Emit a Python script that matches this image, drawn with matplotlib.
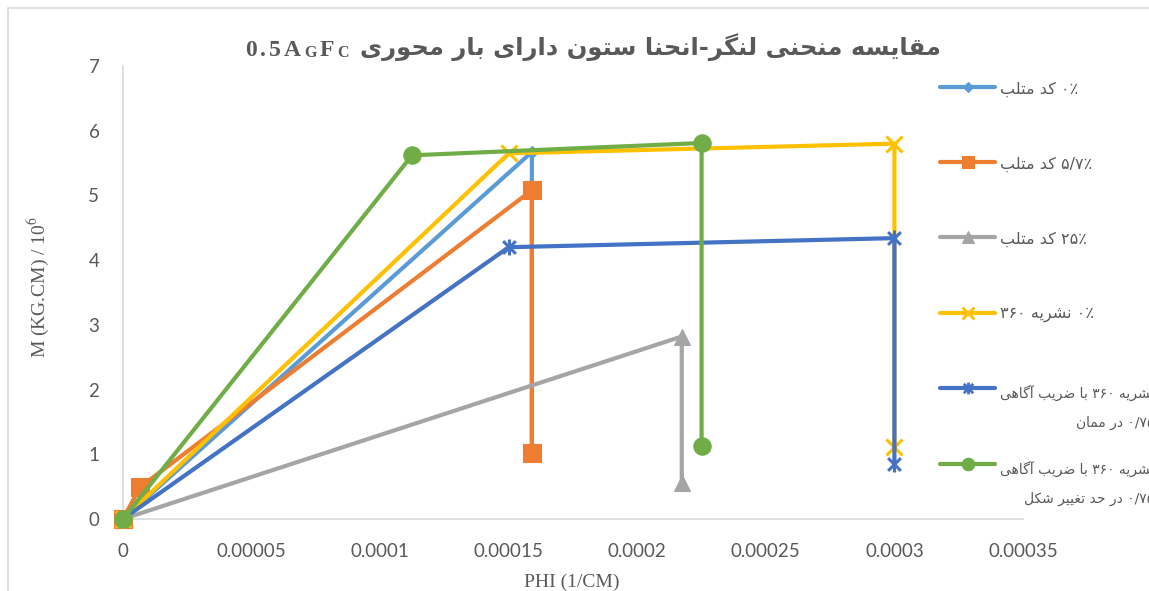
import re
import matplotlib.pyplot as plt
from matplotlib.lines import Line2D
from matplotlib.patches import Rectangle
from matplotlib.path import Path

W, H = 1149, 591

# --- data -------------------------------------------------------------
title_fa = 'مقایسه منحنی لنگر-انحنا ستون دارای بار محوری'
title_parts = ['0.5A', 'G', 'F', 'C']
xlabel = 'PHI (1/CM)'
ylabel = 'M (KG.CM) / 10$^{6}$'

series_names = [
    '۰٪ کد متلب',
    '۵/۷٪ کد متلب',
    '۲۵٪ کد متلب',
    '۰٪ نشریه ۳۶۰',
    'نشریه ۳۶۰ با ضریب آگاهی\n۰/۷۵ در ممان',
    'نشریه ۳۶۰ با ضریب آگاهی\n۰/۷۵ در حد تغییر شکل',
]

phi_matlab_0 = [0, 0.000159, 0.000159]
m_matlab_0 = [0, 5.67, 1.10]
phi_matlab_57 = [0, 0.0000066, 0.000159, 0.000159]
m_matlab_57 = [0, 0.49, 5.08, 1.02]
phi_matlab_25 = [0, 0.0002173, 0.0002173]
m_matlab_25 = [0, 2.82, 0.556]
phi_code_0 = [0, 0.00015, 0.0003, 0.0003]
m_code_0 = [0, 5.65, 5.80, 1.12]
phi_code_moment = [0, 0.00015, 0.0003, 0.0003]
m_code_moment = [0, 4.20, 4.34, 0.85]
phi_code_deform = [0, 0.0001124, 0.000225, 0.000225]
m_code_deform = [0, 5.62, 5.81, 1.13]

xticks = [0, 0.00005, 0.0001, 0.00015, 0.0002, 0.00025, 0.0003, 0.00035]
xtick_labels = ['0', '0.00005', '0.0001', '0.00015', '0.0002', '0.00025', '0.0003', '0.00035']
yticks = [0, 1, 2, 3, 4, 5, 6, 7]

# --- persian shaping (matplotlib has no complex text layout) -----------
FORMS = {
    '\u0627': (0xFE8D, 0xFE8E),
    '\u0622': (0xFE81, 0xFE82),
    '\u0628': (0xFE8F, 0xFE90, 0xFE91, 0xFE92),
    '\u062A': (0xFE95, 0xFE96, 0xFE97, 0xFE98),
    '\u062D': (0xFEA1, 0xFEA2, 0xFEA3, 0xFEA4),
    '\u062F': (0xFEA9, 0xFEAA),
    '\u0631': (0xFEAD, 0xFEAE),
    '\u0633': (0xFEB1, 0xFEB2, 0xFEB3, 0xFEB4),
    '\u0634': (0xFEB5, 0xFEB6, 0xFEB7, 0xFEB8),
    '\u0636': (0xFEBD, 0xFEBE, 0xFEBF, 0xFEC0),
    '\u063A': (0xFECD, 0xFECE, 0xFECF, 0xFED0),
    '\u0642': (0xFED5, 0xFED6, 0xFED7, 0xFED8),
    '\u0644': (0xFEDD, 0xFEDE, 0xFEDF, 0xFEE0),
    '\u0645': (0xFEE1, 0xFEE2, 0xFEE3, 0xFEE4),
    '\u0646': (0xFEE5, 0xFEE6, 0xFEE7, 0xFEE8),
    '\u0647': (0xFEE9, 0xFEEA, 0xFEEB, 0xFEEC),
    '\u0648': (0xFEED, 0xFEEE),
    '\u06A9': (0xFB8E, 0xFB8F, 0xFB90, 0xFB91),
    '\u06AF': (0xFB92, 0xFB93, 0xFB94, 0xFB95),
    '\u06CC': (0xFBFC, 0xFBFD, 0xFBFE, 0xFBFF),
}
NUM = '0-9\u06F0-\u06F9/\u066A'


def normalize(s):
    s = s.replace('\u0643', '\u06A9').replace('\u064A', '\u06CC').replace('\u0649', '\u06CC')
    s = s.replace('%', '\u066A')
    for i in range(10):
        s = s.replace(chr(0x0660 + i), chr(0x06F0 + i))
    return s


def shape(s):
    out = []
    for i, ch in enumerate(s):
        f = FORMS.get(ch)
        if f is None:
            out.append(ch)
            continue
        prev = s[i - 1] if i > 0 else ''
        nxt = s[i + 1] if i + 1 < len(s) else ''
        jp = prev in FORMS and len(FORMS[prev]) == 4
        jn = nxt in FORMS and len(f) == 4
        if jp and jn:
            g = f[3]
        elif jp:
            g = f[1]
        elif jn:
            g = f[2]
        else:
            g = f[0]
        out.append(chr(g))
    return ''.join(out)


def rtl(text):
    lines = []
    for line in normalize(text).split('\n'):
        runs = re.findall(f'[{NUM}]+|[^{NUM}]+', shape(line))
        lines.append(''.join(r if re.match(f'[{NUM}]', r) else r[::-1] for r in reversed(runs)))
    return '\n'.join(lines)


def fx(px):
    return px / W


def fy(py):
    return 1 - py / H


# --- styles -----------------------------------------------------------
gray_txt = '#595959'
grid_col = '#D9D9D9'
star = Path([(-0.8, -0.8), (0.8, 0.8), (-0.8, 0.8), (0.8, -0.8), (0, -1), (0, 1)],
            [Path.MOVETO, Path.LINETO] * 3)

series = [
    (phi_matlab_0, m_matlab_0, '#5B9BD5', 'D', 6, 5),
    (phi_matlab_57, m_matlab_57, '#ED7D31', 's', 12.5, 8.5),
    (phi_matlab_25, m_matlab_25, '#A5A5A5', '^', 12, 9),
    (phi_code_0, m_code_0, '#FFC000', 'x', 11.5, 8.5),
    (phi_code_moment, m_code_moment, '#4472C4', star, 11.5, 8.5),
    (phi_code_deform, m_code_deform, '#70AD47', 'o', 12.5, 9),
]

plt.rcParams['mathtext.fontset'] = 'stix'
fig = plt.figure(figsize=(W / 100, H / 100), dpi=100)
ax = fig.add_axes([fx(123), fy(519), 900 / W, 453 / H])

for i, (xs, ys, col, mk, ms, _) in enumerate(series):
    line_mk = mk in ('x',) or mk is star
    ax.plot(xs, ys, color=col, lw=3, marker=mk, ms=ms,
            mfc='none' if line_mk else col, mec=col,
            mew=2.2 if line_mk else 0.8, clip_on=False, zorder=3 + i,
            solid_capstyle='butt')

ax.set_xlim(0, 0.00035)
ax.set_ylim(0, 7)
ax.set_xticks(xticks)
ax.set_xticklabels(xtick_labels)
ax.set_yticks(yticks)
for s in ['top', 'right']:
    ax.spines[s].set_visible(False)
for s in ['left', 'bottom']:
    ax.spines[s].set_color(grid_col)
    ax.spines[s].set_linewidth(1.2)
ax.tick_params(length=0, labelsize=13.5, labelcolor=gray_txt, pad=17)
for lab in ax.get_xticklabels() + ax.get_yticklabels():
    lab.set_fontfamily('Lato')

fig.text(fx(38), fy(287), ylabel, rotation=90, ha='center', va='center',
         fontsize=14, color=gray_txt, family='Liberation Serif')
fig.text(fx(572), fy(582), xlabel, ha='center', va='center',
         fontsize=14, color=gray_txt, family='Liberation Serif')

# chart border
fig.patches.append(Rectangle((fx(8), -0.1), 1.5, fy(8) + 0.1, transform=fig.transFigure,
                             fill=False, edgecolor=grid_col, lw=1.2))

# title: 0.5A G F C (small caps, spaced letters) + persian
t = None
for part, small in zip(title_parts, [False, True, False, True]):
    for ch in part:
        kw = dict(fontsize=11.5 if small else 17, fontweight='bold', family='Liberation Serif',
                  color=gray_txt, va='bottom')
        if t is None:
            t = fig.text(fx(245), fy(61), ch, **kw)
        else:
            t = ax.annotate(ch, xy=(1, 0), xycoords=t, xytext=(2.3, 0), textcoords='offset points',
                            annotation_clip=False, **kw)
ax.annotate(rtl(title_fa), xy=(1, 0), xycoords=t, xytext=(8, 0), textcoords='offset points',
            va='bottom', fontsize=17.5, fontweight='bold', family='DejaVu Sans', color=gray_txt,
            annotation_clip=False)

# legend
leg_y = [87, 162, 237, 313, 388, 464]
for (xs, ys, col, mk, _, lms), name, y in zip(series, series_names, leg_y):
    line_mk = mk in ('x',) or mk is star
    fig.add_artist(Line2D([fx(940), fx(967.5), fx(995)], [fy(y)] * 3, transform=fig.transFigure,
                          color=col, lw=3, marker=mk, ms=lms, markevery=[1],
                          mfc='none' if line_mk else col, mec=col, mew=2 if line_mk else 0.8,
                          solid_capstyle='round'))
    if '\n' in name:
        fig.text(fx(1000), fy(y + 20), rtl(name), ha='left', va='center', fontsize=10,
                 color=gray_txt, family='DejaVu Sans', multialignment='right', linespacing=2.25)
    else:
        fig.text(fx(1000), fy(y + 2), rtl(name), ha='left', va='center', fontsize=11.5,
                 color=gray_txt, family='DejaVu Sans')

fig.savefig('out.png', dpi=100)
